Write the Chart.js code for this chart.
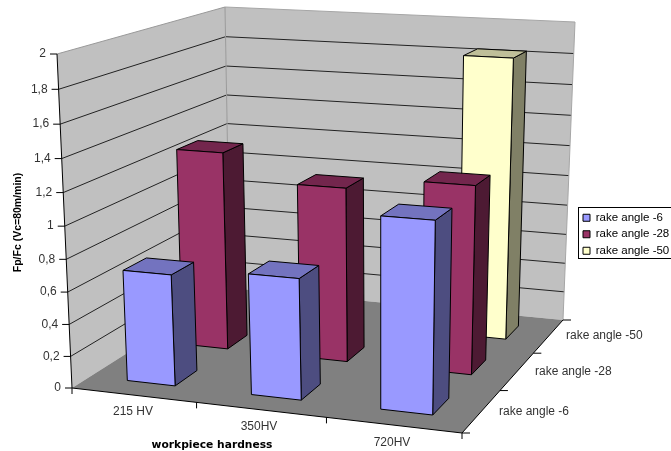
<!DOCTYPE html>
<html><head><meta charset="utf-8">
<style>html,body{margin:0;padding:0;background:#fff}#w{width:671px;height:451px}canvas{display:block}</style>
<script src="https://cdn.jsdelivr.net/npm/chart.js@4"></script>
</head><body><div id="w"><canvas id="c" width="671" height="451"></canvas></div>
<script>
const categories = ['215 HV', '350HV', '720HV'];
const seriesNames = ['rake angle -6', 'rake angle -28', 'rake angle -50'];
const rake6 = [0.695, 0.745, 1.155];
const rake28 = [1.28, 1.115, 1.19];
const rake50 = [null, null, 1.835];
const yTicks = ['0','0,2','0,4','0,6','0,8','1','1,2','1,4','1,6','1,8','2'];

// projection of the plot box on the page
const FLOOR = [[72,388],[462,433],[563,320],[230,288]];
const CEIL  = [[57,54],[470,78],[575,22],[225,7]];
const PERSP = 0.06;
function homography(q){
  const [[x0,y0],[x1,y1],[x2,y2],[x3,y3]] = q;
  const dx1=x1-x2, dx2=x3-x2, sx=x0-x1+x2-x3, dy1=y1-y2, dy2=y3-y2, sy=y0-y1+y2-y3;
  const d=dx1*dy2-dx2*dy1, g=(sx*dy2-dx2*sy)/d, h=(dx1*sy-sx*dy1)/d;
  return (u,w)=>{
    const a=x1-x0+g*x1, b=x3-x0+h*x3, e=y1-y0+g*y1, f=y3-y0+h*y3, n=g*u+h*w+1;
    return [(a*u+b*w+x0)/n,(e*u+f*w+y0)/n];
  };
}
const H0=homography(FLOOR), H1=homography(CEIL);
const P=(u,v,w)=>{
  const a=H0(u,w),b=H1(u,w),s=v*(1-PERSP)/(1-PERSP*v);
  return [a[0]+(b[0]-a[0])*s,a[1]+(b[1]-a[1])*s];
};
function poly(ctx,pts,fill,stroke,lw){
  ctx.beginPath();pts.forEach((p,i)=>i?ctx.lineTo(p[0],p[1]):ctx.moveTo(p[0],p[1]));ctx.closePath();
  if(fill){ctx.fillStyle=fill;ctx.fill();}
  if(stroke){ctx.strokeStyle=stroke;ctx.lineWidth=lw||1;ctx.stroke();}
}
function seg(ctx,a,b,c){ctx.beginPath();ctx.moveTo(a[0],a[1]);ctx.lineTo(b[0],b[1]);ctx.strokeStyle=c;ctx.lineWidth=1;ctx.stroke();}
const BAR_U=0.39, BAR_W=0.40;

class Bar3D extends Chart.BarController{
  draw(){
    const meta=this.getMeta(), ctx=this.chart.ctx, xs=meta.xScale, ys=meta.yScale;
    const ds=this.getDataset(), n=this.chart.data.datasets.length;
    const w=(this.index+.5)/n, cell=1/this.chart.data.labels.length;
    const toV=val=>(ys.bottom-ys.getPixelForValue(val))/(ys.bottom-ys.top);
    ds.data.forEach((val,i)=>{
      if(val==null)return;
      const c=(xs.getPixelForValue(i)-xs.left)/(xs.right-xs.left);
      const u0=c-cell*BAR_U/2, u1=c+cell*BAR_U/2, v=toV(val);
      const w0b=w-cell*BAR_W/2, w1b=w+cell*BAR_W/2;
      poly(ctx,[P(u1,0,w0b),P(u1,0,w1b),P(u1,v,w1b),P(u1,v,w0b)],ds.sideColor,'#000');
      poly(ctx,[P(u0,v,w0b),P(u1,v,w0b),P(u1,v,w1b),P(u0,v,w1b)],ds.topColor,'#000');
      poly(ctx,[P(u0,0,w0b),P(u1,0,w0b),P(u1,v,w0b),P(u0,v,w0b)],ds.backgroundColor,'#000');
    });
  }
}
Bar3D.id='bar3d';
Bar3D.defaults=Chart.BarController.defaults;
Bar3D.overrides=Chart.BarController.overrides;
Chart.register(Bar3D);

const FONT='"Liberation Sans", Arial, sans-serif';
const box3d={
  id:'box3d',
  beforeDraw(chart){
    const l=chart.legend; l.left=578;l.right=680;l.top=207;l.bottom=300;
  },
  beforeDatasetsDraw(chart){
    const ctx=chart.ctx, ys=chart.scales.y;
    ctx.save();
    const toV=val=>(ys.bottom-ys.getPixelForValue(val))/(ys.bottom-ys.top);
    poly(ctx,[P(0,0,0),P(0,0,1),P(0,1,1),P(0,1,0)],'#c0c0c0');
    poly(ctx,[P(0,0,1),P(1,0,1),P(1,1,1),P(0,1,1)],'#c0c0c0');
    poly(ctx,[P(0,0,0),P(1,0,0),P(1,0,1),P(0,0,1)],'#808080');
    ys.ticks.forEach(t=>{
      const v=toV(t.value);
      if(v<=0||v>=1)return;
      seg(ctx,P(0,v,0),P(0,v,1),'#222');
      seg(ctx,P(0,v,1),P(1,v,1),'#222');
    });
    seg(ctx,P(0,1,0),P(0,1,1),'#999');
    seg(ctx,P(0,1,1),P(1,1,1),'#a6a6a6');
    seg(ctx,P(1,1,1),P(1,0,1),'#a6a6a6');
    seg(ctx,P(0,1,1),P(0,0,1),'#999');
    seg(ctx,P(0,0,0),P(0,1,0),'#000');
    seg(ctx,P(0,0,0),P(1,0,0),'#000');
    seg(ctx,P(1,0,0),P(1,0,1),'#000');
    // axis ticks
    ys.ticks.forEach(t=>{const a=P(0,toV(t.value),0);seg(ctx,a,[a[0]-7,a[1]],'#000');});
    for(let i=0;i<=categories.length;i++){const a=P(i/categories.length,0,0);seg(ctx,a,[a[0],a[1]+6],'#000');}
    for(let i=0;i<=seriesNames.length;i++){const a=P(1,0,i/seriesNames.length);seg(ctx,a,[a[0]+8,a[1]],'#000');}
    ctx.restore();
  },
  afterDraw(chart){
    const ctx=chart.ctx, ys=chart.scales.y;
    ctx.save();
    ctx.fillStyle='#333';ctx.font='12px '+FONT;ctx.textBaseline='middle';
    ctx.textAlign='right';
    ys.ticks.forEach((t,i)=>{
      const a=P(0,(ys.bottom-ys.getPixelForValue(t.value))/(ys.bottom-ys.top),0);
      ctx.fillText(yTicks[i],a[0]-11,a[1]);
    });
    ctx.textAlign='center';
    const catPos=[[133,412],[259,427],[392,443]];
    categories.forEach((c,i)=>ctx.fillText(c,catPos[i][0],catPos[i][1]));
    ctx.textAlign='left';
    const depPos=[[499,412],[535,372],[566,336]];
    seriesNames.forEach((c,i)=>ctx.fillText(c,depPos[i][0],depPos[i][1]));
    ctx.fillStyle='#000';ctx.font='bold 10.7px "DejaVu Sans", sans-serif';ctx.textAlign='center';
    ctx.fillText('workpiece hardness',212,445.5);
    ctx.font='bold 10.5px '+FONT;
    ctx.translate(18,222.5);ctx.rotate(-Math.PI/2);
    ctx.fillText('Fp/Fc (Vc=80m/min)',0,0);
    ctx.restore();
    ctx.strokeStyle='#000';ctx.lineWidth=1;
    ctx.strokeRect(578.5,207.5,100,51);
  }
};

new Chart(document.getElementById('c'),{
  type:'bar3d',
  data:{labels:categories,datasets:[
    {label:seriesNames[0],data:rake6,clip:false,backgroundColor:'#9999ff',sideColor:'#4d4d80',topColor:'#7373bf',borderColor:'#000',borderWidth:1},
    {label:seriesNames[1],data:rake28,clip:false,backgroundColor:'#993366',sideColor:'#4d1a33',topColor:'#73264d',borderColor:'#000',borderWidth:1},
    {label:seriesNames[2],data:rake50,clip:false,backgroundColor:'#ffffcc',sideColor:'#808066',topColor:'#bfbf99',borderColor:'#000',borderWidth:1}
  ]},
  options:{
    responsive:false,animation:false,
    layout:{padding:{top:54,bottom:63,left:57,right:0}},
    scales:{
      x:{type:'category',display:false,offset:true},
      y:{type:'linear',display:false,min:0,max:2,ticks:{stepSize:0.2}}
    },
    plugins:{
      legend:{display:true,position:'right',align:'start',labels:{boxWidth:7,boxHeight:7,padding:5,color:'#000',font:{family:FONT,size:11.5}}},
      tooltip:{enabled:false}
    }
  },
  plugins:[box3d]
});
</script></body></html>
